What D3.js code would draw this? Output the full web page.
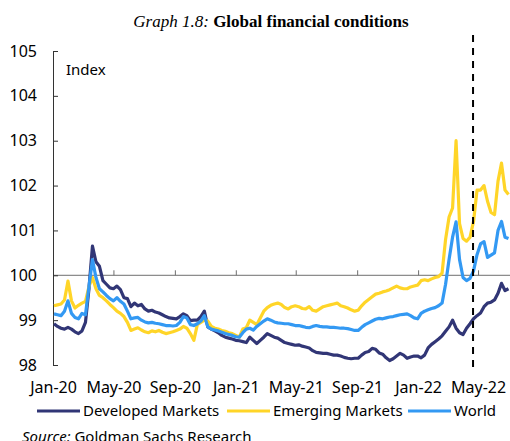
<!DOCTYPE html>
<html>
<head>
<meta charset="utf-8">
<script src="https://cdn.jsdelivr.net/npm/d3@7"></script>
<style>
  body { margin: 0; background: #fff; }
  svg { display: block; }
</style>
</head>
<body>
<svg width="510" height="441"></svg>
<script>
// weekly observations, first one on 3 Jan 2020
const startDate = "2020-01-03";
const markerDate = "2022-04-21";

const developed = [
  98.92, 98.86, 98.82, 98.80, 98.84, 98.80, 98.74, 98.70, 98.76, 98.95,
  99.70, 100.65, 100.30, 100.20, 99.88, 99.80, 99.72, 99.70, 99.76, 99.68,
  99.50, 99.48, 99.30, 99.38, 99.32, 99.35, 99.25, 99.20, 99.22, 99.18,
  99.16, 99.12, 99.08, 99.05, 99.04, 99.03, 99.08, 99.14, 99.10, 98.99,
  99.00, 99.00, 99.08, 99.20, 98.85, 98.80, 98.76, 98.72, 98.66, 98.62,
  98.60, 98.58, 98.55, 98.54, 98.52, 98.50, 98.62, 98.55, 98.48, 98.55,
  98.62, 98.70, 98.66, 98.62, 98.60, 98.55, 98.50, 98.48, 98.46, 98.44,
  98.45, 98.42, 98.40, 98.38, 98.32, 98.28, 98.27, 98.26, 98.26, 98.24,
  98.22, 98.22, 98.20, 98.17, 98.15, 98.14, 98.15, 98.15, 98.22, 98.28,
  98.30, 98.37, 98.35, 98.27, 98.24, 98.16, 98.10, 98.14, 98.20, 98.26,
  98.22, 98.15, 98.18, 98.20, 98.20, 98.16, 98.22, 98.38, 98.46, 98.52,
  98.58, 98.65, 98.75, 98.85, 99.00, 98.82, 98.72, 98.68, 98.82, 98.92,
  99.03, 99.10, 99.16, 99.30, 99.38, 99.40, 99.45, 99.60, 99.82, 99.66,
  99.70
];

const emerging = [
  99.32, 99.34, 99.36, 99.45, 99.87, 99.43, 99.27, 99.33, 99.38, 99.42,
  99.75, 99.95, 99.70, 99.55, 99.50, 99.43, 99.35, 99.28, 99.20, 99.15,
  99.08, 98.95, 98.77, 98.80, 98.83, 98.78, 98.74, 98.72, 98.76, 98.74,
  98.77, 98.73, 98.70, 98.72, 98.74, 98.77, 98.80, 98.86, 98.82, 98.70,
  98.55, 98.90, 98.95, 99.00, 98.98, 98.86, 98.82, 98.80, 98.77, 98.75,
  98.72, 98.70, 98.66, 98.62, 98.80, 98.83, 99.00, 98.95, 98.90, 99.05,
  99.20, 99.28, 99.33, 99.36, 99.38, 99.35, 99.28, 99.25, 99.30, 99.32,
  99.30, 99.26, 99.25, 99.30, 99.22, 99.20, 99.25, 99.30, 99.32, 99.34,
  99.36, 99.38, 99.32, 99.30, 99.27, 99.23, 99.20, 99.22, 99.32, 99.40,
  99.46, 99.52, 99.58, 99.60, 99.63, 99.65, 99.68, 99.72, 99.76, 99.72,
  99.70, 99.70, 99.74, 99.76, 99.78, 99.88, 99.90, 99.88, 99.92, 99.95,
  99.97, 100.05, 100.80, 101.30, 101.50, 103.00, 101.15, 100.82, 100.76, 100.85,
  101.20, 101.90, 101.90, 102.00, 101.65, 101.40, 101.35, 102.10, 102.50, 101.90,
  101.80
];

const world = [
  99.14, 99.12, 99.10, 99.20, 99.43, 99.15, 99.06, 99.03, 99.15, 99.12,
  99.75, 100.35, 99.95, 99.70, 99.63, 99.55, 99.48, 99.43, 99.50, 99.42,
  99.36, 99.20, 99.03, 99.05, 99.06, 99.00, 98.96, 98.94, 98.95, 98.93,
  98.92, 98.90, 98.88, 98.88, 98.87, 98.88, 98.95, 99.08, 99.05, 98.90,
  98.88, 98.92, 98.98, 99.10, 98.85, 98.80, 98.78, 98.76, 98.73, 98.70,
  98.68, 98.66, 98.63, 98.62, 98.72, 98.80, 98.82, 98.78, 98.86, 98.92,
  98.98, 99.03, 99.00, 98.96, 98.94, 98.93, 98.92, 98.92, 98.90, 98.88,
  98.88, 98.86, 98.84, 98.83, 98.86, 98.88, 98.86, 98.85, 98.85, 98.84,
  98.84, 98.83, 98.82, 98.82, 98.81, 98.79, 98.77, 98.77, 98.84, 98.90,
  98.94, 98.98, 99.02, 99.04, 99.03, 99.05, 99.07, 99.08, 99.10, 99.12,
  99.13, 99.14, 99.10, 99.05, 99.03, 99.15, 99.20, 99.23, 99.26, 99.28,
  99.32, 99.38, 99.80, 100.35, 100.85, 101.19, 100.35, 99.95, 99.88, 99.93,
  100.10, 100.46, 100.70, 100.75, 100.40, 100.45, 100.50, 101.00, 101.20, 100.85,
  100.82
];

const seriesNames = ["Developed Markets", "Emerging Markets", "World"];
const seriesColors = ["#313676", "#ffd528", "#3399f3"];
const yTicks = [98, 99, 100, 101, 102, 103, 104, 105];
const xTicks = ["2020-01-01", "2020-05-01", "2020-09-01", "2021-01-01",
                "2021-05-01", "2021-09-01", "2022-01-01", "2022-05-01"];

const parse = d3.utcParse("%Y-%m-%d");
const fmt = d3.utcFormat("%b-%y");
const t0 = parse(startDate);
const dates = developed.map((_, i) => d3.utcDay.offset(t0, i * 7));

const svg = d3.select("svg");
const font = "'Noto Sans', sans-serif";

const x = d3.scaleUtc()
  .domain([parse("2020-01-01"), parse("2022-07-03")])
  .range([53, 509.5]);
const y = d3.scaleLinear().domain([98, 105]).range([365, 51]);

// title
const title = svg.append("text")
  .attr("x", 271).attr("y", 27)
  .attr("text-anchor", "middle")
  .style("font-family", "'Liberation Serif', 'Times New Roman', serif")
  .style("font-size", "17px");
title.append("tspan").style("font-style", "italic").text("Graph 1.8: ");
title.append("tspan").style("font-weight", "bold").text("Global financial conditions");

// x axis sits on the 100 line, labels below the plot
const xAxis = svg.append("g")
  .attr("transform", `translate(0,${y(100)})`)
  .call(d3.axisTop(x).tickValues(xTicks.map(parse)).tickFormat(fmt)
    .tickSize(5).tickSizeOuter(0));
xAxis.select(".domain").attr("stroke", "#6e6e6e").attr("d", `M53,0H510`);
xAxis.selectAll(".tick line").attr("stroke", "#6e6e6e");
xAxis.selectAll("text")
  .attr("y", y(98) - y(100) + 17)
  .attr("dy", "0.71em")
  .attr("fill", "#000")
  .style("font-family", font)
  .style("font-size", "16px");

// y axis
const yAxis = svg.append("g")
  .attr("transform", "translate(53,0)")
  .call(d3.axisLeft(y).tickValues(yTicks).tickFormat(d3.format("d"))
    .tickSize(-5).tickSizeOuter(-5).tickPadding(16));
yAxis.selectAll(".domain, .tick line").attr("stroke", "#333");
yAxis.selectAll("text")
  .attr("fill", "#000")
  .style("font-family", font)
  .style("font-size", "16px");

svg.append("text")
  .attr("x", 66).attr("y", 75)
  .style("font-family", font).style("font-size", "15px")
  .text("Index");

// lines
const line = d3.line().x((d, i) => x(dates[i])).y(d => y(d));
[developed, emerging, world].forEach((vals, i) => {
  svg.append("path")
    .datum(vals)
    .attr("fill", "none")
    .attr("stroke", seriesColors[i])
    .attr("stroke-width", 3.2)
    .attr("stroke-linejoin", "round")
    .attr("d", line);
});

// vertical marker
svg.append("line")
  .attr("x1", x(parse(markerDate))).attr("x2", x(parse(markerDate)))
  .attr("y1", 35).attr("y2", 369)
  .attr("stroke", "#000")
  .attr("stroke-width", 2)
  .attr("stroke-dasharray", "7,6");

// legend
const legendX = [37, 227, 408];
const lg = svg.append("g");
seriesNames.forEach((name, i) => {
  lg.append("line")
    .attr("x1", legendX[i]).attr("x2", legendX[i] + 43)
    .attr("y1", 411).attr("y2", 411)
    .attr("stroke", seriesColors[i]).attr("stroke-width", 3);
  lg.append("text")
    .attr("x", legendX[i] + 46).attr("y", 411)
    .attr("dy", "0.35em")
    .style("font-family", font).style("font-size", "15px")
    .text(name);
});

// source
const src = svg.append("text")
  .attr("x", 22).attr("y", 442)
  .style("font-family", font).style("font-size", "15px");
src.append("tspan").style("font-style", "italic").text("Source:");
src.append("tspan").text(" Goldman Sachs Research");
</script>
</body>
</html>
